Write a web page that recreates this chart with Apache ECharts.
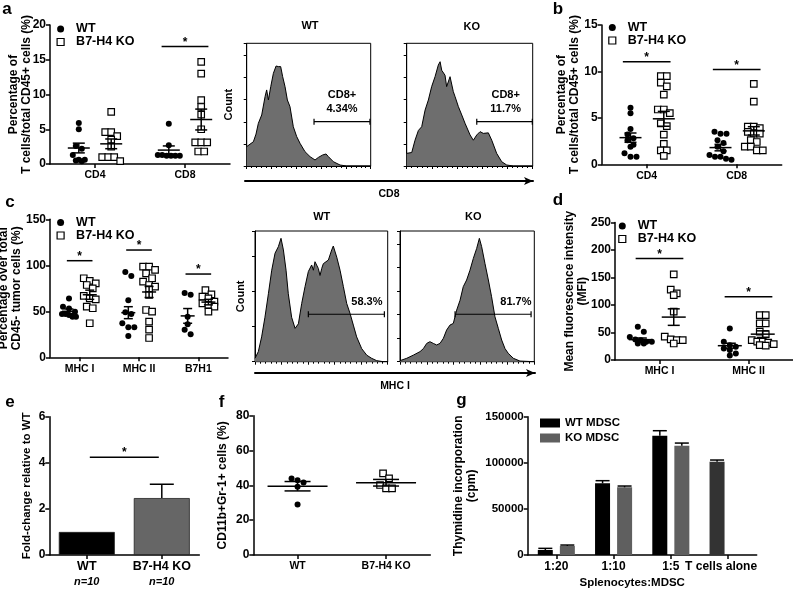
<!DOCTYPE html>
<html><head><meta charset="utf-8">
<script src="https://cdn.jsdelivr.net/npm/echarts@6/dist/echarts.min.js"></script>
<style>html,body{margin:0;padding:0;background:#fff}#c{width:793px;height:591px}</style>
</head><body><div id="c"></div>
<script>
// ================= DATA =================
// Panel a
const aCats = ['CD4', 'CD8'];
const aWT_CD4 = [5.9, 5.0, 2.6, 2.2, 1.3, 0.6, 0.5, 0.4, 0.6];
const aKO_CD4 = [7.5, 4.6, 4.6, 4.0, 3.5, 2.5, 1.0, 1.0, 1.0, 0.4];
const aWT_CD8 = [5.8, 2.7, 1.3, 1.2, 1.2, 1.2, 1.2, 1.3];
const aKO_CD8 = [14.7, 13.0, 9.2, 8.2, 7.1, 5.0, 3.1, 3.1, 3.1, 1.8, 1.8];
const aMeanWT = [2.3, 2.0], aSemWT = [0.7, 0.6];
const aMeanKO = [2.9, 6.4], aSemKO = [0.7, 1.5];
const aSigCat = [1], aSigY = [16.9];
// Panel b
const bCats = ['CD4', 'CD8'];
const bWT_CD4 = [6.1, 5.5, 3.8, 3.2, 2.8, 2.6, 2.1, 1.9, 1.2, 0.8, 0.8];
const bKO_CD4 = [9.5, 9.5, 8.8, 8.4, 7.5, 5.9, 5.9, 5.5, 4.4, 4.1, 3.2, 2.2, 1.5, 1.5, 0.9];
const bWT_CD8 = [3.5, 3.3, 3.3, 2.6, 2.3, 1.9, 1.4, 1.0, 0.8, 0.8, 0.6, 0.5];
const bKO_CD8 = [8.65, 6.75, 4.05, 4.05, 3.9, 3.5, 3.3, 3.3, 2.6, 2.4, 1.9, 1.9, 1.5, 1.5];
const bMeanWT = [2.87, 1.8], bSemWT = [0.5, 0.35];
const bMeanKO = [4.9, 3.6], bSemKO = [0.8, 0.45];
const bSigCat = [0, 1], bSigY = [11.05, 10.2];
// Panel c
const cCats = ['MHC I', 'MHC II', 'B7H1'];
const cWT_MHCI = [64, 55, 53, 49.6, 47, 46, 47, 44.2, 44.2];
const cKO_MHCI = [85.9, 83, 80.4, 78.6, 75, 66.7, 63, 64, 55, 53.3, 37];
const cWT_MHCII = [92.8, 88.4, 62, 49, 47, 37, 32.6, 32.6, 23.2];
const cKO_MHCII = [98.6, 98.6, 95, 91.3, 85.9, 82.2, 78.6, 76.8, 73.9, 67.8, 51.4, 49.6, 38.8, 30, 21];
const cWT_B7H1 = [70, 68, 44, 36, 30, 25];
const cKO_B7H1 = [73, 68.5, 66, 64, 60.5, 58.7, 57, 55, 49.6];
const cMeanWT = [50, 48.5, 45], cSemWT = [2.5, 6.5, 8];
const cMeanKO = [68, 71, 60], cSemKO = [5, 6, 3];
const cSigCat = [0, 1, 2], cSigY = [105, 116.6, 90.5];
// Panel d
const dCats = ['MHC I', 'MHC II'];
const dWT_MHCI = [60.5, 51.5, 42, 37.5, 36, 33, 33, 30, 30];
const dKO_MHCI = [155.6, 128, 121, 118, 88, 42.4, 37.5, 36, 36, 30];
const dWT_MHCII = [57.5, 33, 27, 24, 21, 18, 12, 8];
const dKO_MHCII = [81.7, 81.7, 66.6, 66.6, 51.5, 47, 36.3, 33.3, 33.3, 31.5, 29, 27, 26];
const dMeanWT = [37, 26], dSemWT = [3, 4.5];
const dMeanKO = [78, 47], dSemKO = [15, 6];
const dSigCat = [0, 1], dSigY = [184.7, 115];
// Panel e
const eCats = ['WT', 'B7-H4 KO'];
const eVal = [1.0, 2.47];
const eSem = [0, 0.6];
const eN = ['n=10', 'n=10'];
const eSigY = 4.24;
// Panel f
const fCats = ['WT', 'B7-H4 KO'];
const fWT = [44, 43, 41.7, 39.2, 29];
const fKO = [46.9, 44, 40.2, 38.3, 38.3];
const fMean = [39.5, 41.5], fSem = [2.7, 1.9];
// Panel g
const gCats = ['1:20', '1:10', '1:5', 'T cells alone'];
const gWT = [5400, 77700, 129400, null];
const gKO = [9750, 73400, 118500, null];
const gAlone = [null, null, null, 101200];
const gWTsem = [1800, 2900, 5400, null];
const gKOsem = [1050, 1400, 2900, null];
const gAloneSem = [null, null, null, 1800];
// Flow histograms [channel, count]
const histAWT = [[0,15.8],[5.4,19.8],[7.5,26],[9.4,34.8],[12.1,41.6],[14.8,56.5],[16.1,62],[17.5,53.8],[19.4,64.7],[21.5,75.5],[23.7,81.5],[24.7,82.3],[25.5,81],[27.4,81],[29.0,72.8],[30.9,64.7],[32.8,53.8],[34.9,48.4],[37.6,32],[40.3,24],[43.0,18.5],[47.0,11.7],[51.1,7.6],[55.1,4.9],[57.8,7],[61.3,9],[64.0,9.8],[65.9,7.6],[69.9,3.5],[75.3,0.8],[80.6,0],[100,0]];
const histAKO = [[0,10.3],[4.0,11],[6.6,21],[9.3,29],[11.9,32],[14.6,45.6],[17.2,53.8],[19.8,64.7],[22.5,72.8],[25.1,82.3],[26.5,85],[27.8,78],[30.4,74],[31.7,64.7],[34.4,72.8],[37.0,60.6],[38.4,56.5],[41.0,48.4],[43.7,41.6],[46.3,34.8],[50.3,25.3],[52.9,21],[55.6,25.3],[58.2,28],[60.8,26.6],[64.8,27],[67.5,21],[71.4,10.3],[75.4,3.5],[79.4,0.8],[84.7,0],[100,0]];
const histCWT = [[0,2.6],[2.5,7.7],[5.0,19],[7.5,34],[10.1,52],[12.6,70],[15.1,83],[17.6,88],[19.6,94.4],[21.4,85.5],[23.4,70],[25.1,52],[27.6,34],[30.2,25.5],[32.7,29],[35.2,44.6],[37.7,57.4],[40.2,69],[42.7,74],[44,70],[45.2,76.5],[46.5,78],[47.7,71.4],[49,66],[50.3,71.4],[51.5,75],[52.8,74],[55.3,77.8],[57.8,85.5],[59.0,88.5],[61.6,80],[64.1,70],[66.6,57.4],[69.1,44.6],[71.6,37],[74.1,28],[76.6,19],[80.4,10],[84.2,5],[87.9,2.6],[91.7,0.8],[96.7,0],[100,0]];
const histCKO = [[0,0.8],[5.0,2.6],[9.9,5],[14.9,7.7],[17.4,10],[19.9,14],[22.3,15.3],[24.8,14],[27.3,12.8],[29.8,14],[32.3,17.9],[34.7,24.2],[37.2,28],[39.7,29.3],[42.2,39.5],[44.7,47],[47.1,57.4],[49.6,62.5],[52.1,70],[54.6,79],[57.1,86.7],[59.1,94.4],[60.8,88],[63.3,75],[65.8,62.5],[68.2,49.7],[70.7,34.4],[73.2,25.5],[75.7,16.6],[78.2,10],[80.6,6.4],[84.4,2.6],[89.3,0.5],[100,0]];
// Gates [start channel, end channel, height]
const gateAWT = [54.3, 99.4, 36.1], gateAWTText = 'CD8+\n4.34%';
const gateAKO = [55.6, 99.7, 36.1], gateAKOText = 'CD8+\n11.7%';
const gateCWT = [40.2, 97.5, 36.3], gateCWTText = '58.3%';
const gateCKO = [41.0, 97.6, 36.3], gateCKOText = '81.7%';

// ================= LAYOUT / STYLE =================
const FONT = "'Liberation Sans', Arial, sans-serif";
const AX = {color: '#000', width: 1.5};
function txt(size, extra) { return Object.assign({fontFamily: FONT, fontSize: size, fontWeight: 'bold', color: '#000'}, extra || {}); }

const grids = [
  {left: 50, top: 25, width: 180, height: 139},          // 0 a
  {left: 601.7, top: 25, width: 180, height: 139.3},     // 1 b
  {left: 50, top: 219.3, width: 178, height: 138},       // 2 c
  {left: 615, top: 222.5, width: 178, height: 137.5},    // 3 d
  {left: 49.3, top: 416.7, width: 150, height: 138.3},   // 4 e
  {left: 253.3, top: 415.7, width: 177, height: 139.3},  // 5 f
  {left: 527.7, top: 416.7, width: 229, height: 138.3},  // 6 g
  {left: 246.7, top: 43.3, width: 124, height: 122.7},   // 7 flow a WT
  {left: 406.7, top: 43.3, width: 126, height: 122.7},   // 8 flow a KO
  {left: 255, top: 231, width: 132.7, height: 130.7},    // 9 flow c WT
  {left: 400, top: 231, width: 134.3, height: 130.7},    // 10 flow c KO
  {left: 245, top: 180, width: 288, height: 1},          // 11 arrow a
  {left: 255, top: 372, width: 280, height: 1}           // 12 arrow c
];
grids.forEach((g, i) => { g.outerBoundsMode = 'none'; g.containLabel = false;
  if (i >= 7 && i <= 10) { g.show = true; g.borderColor = '#000'; g.borderWidth = 1; g.backgroundColor = 'transparent'; } });

const xAxes = [], yAxes = [], series = [], legends = [];

function addCatAxis(grid, cats, label) {
  xAxes.push({type: 'category', gridIndex: grid, data: cats, boundaryGap: true,
    axisLine: {show: true, lineStyle: AX},
    axisTick: {show: true, alignWithLabel: true, length: 4, lineStyle: AX},
    axisLabel: Object.assign(txt(10.5, {margin: 6, interval: 0}), label || {}),
    splitLine: {show: false}});
  return xAxes.length - 1;
}
function addYAxis(grid, max, interval, name, nameGap, nameSize, labelSize) {
  yAxes.push({type: 'value', gridIndex: grid, min: 0, max: max, interval: interval,
    name: name, nameLocation: 'middle', nameGap: nameGap, nameMoveOverlap: false,
    nameTextStyle: txt(nameSize || 12, {lineHeight: 13}),
    axisLine: {show: true, lineStyle: AX}, axisTick: {show: true, length: 4, lineStyle: AX},
    axisLabel: txt(labelSize || 12, {margin: 4, formatter: v => String(v)}), splitLine: {show: false}});
  return yAxes.length - 1;
}
function swarm(vals, cx, pxU, catPx, d, maxRow) {
  const s = vals.slice().sort((a, b) => b - a);
  const rows = []; let cur = [];
  s.forEach(v => { if (cur.length && (cur[0] - v) * pxU > d * 0.85) { rows.push(cur); cur = []; } cur.push(v); });
  if (cur.length) rows.push(cur);
  const out = [];
  rows.forEach(r => {
    const m = r.length;
    const step = m > 1 ? Math.min(d, maxRow / (m - 1)) : 0;
    r.forEach((v, k) => out.push([cx + (k - (m - 1) / 2) * step / catPx, v]));
  });
  return out;
}
const ST = {stroke: '#000', lineWidth: 1.5};
function ln(x1, y1, x2, y2, st) { return {type: 'line', shape: {x1, y1, x2, y2}, style: st || ST}; }

function dotPanel(p) {
  addCatAxis(p.grid, p.cats);
  const xv = xAxes.push({type: 'value', gridIndex: p.grid, min: 0, max: p.cats.length, show: false}) - 1;
  const yi = addYAxis(p.grid, p.ymax, p.interval, p.yname, p.nameGap);
  const g = grids[p.grid];
  const pxU = g.height / p.ymax, catPx = g.width / p.cats.length;
  p.groups.forEach(gr => {
    const pts = [];
    gr.values.forEach((vals, i) => { if (vals) pts.push(...swarm(vals, i + 0.5 + gr.off, pxU, catPx, 6, p.maxRow || 22)); });
    const isWT = gr.name === 'WT';
    series.push({type: 'scatter', name: gr.name, xAxisIndex: xv, yAxisIndex: yi, data: pts, silent: true, z: 3,
      symbol: isWT ? 'circle' : 'rect', symbolSize: isWT ? 6 : 6.5,
      itemStyle: isWT ? {color: '#000', opacity: 1} : {color: '#fff', borderColor: '#000', borderWidth: 1.2, opacity: 1}});
    const md = [];
    gr.mean.forEach((m, i) => { if (m != null) md.push([i + 0.5 + gr.off, m, gr.sem[i]]); });
    series.push({type: 'custom', xAxisIndex: xv, yAxisIndex: yi, silent: true, z: 5, data: md,
      renderItem: (params, api) => {
        const x = api.value(0), m = api.value(1), s = api.value(2);
        const c = api.coord([x, m]), t = api.coord([x, m + s]), b = api.coord([x, m - s]);
        const mh = p.meanHalf, ch = p.capHalf;
        return {type: 'group', children: [
          ln(c[0] - mh, c[1], c[0] + mh, c[1]), ln(c[0], t[1], c[0], b[1]),
          ln(c[0] - ch, t[1], c[0] + ch, t[1]), ln(c[0] - ch, b[1], c[0] + ch, b[1])]};
      }});
  });
  if (p.sigCat) {
    series.push({type: 'custom', xAxisIndex: xv, yAxisIndex: yi, silent: true, z: 5,
      data: p.sigCat.map((c, i) => [c + 0.5, p.sigY[i]]),
      renderItem: (params, api) => {
        const x = api.value(0), y = api.value(1);
        const l = api.coord([x - p.sigHalf, y]), r = api.coord([x + p.sigHalf, y]);
        return {type: 'group', children: [ln(l[0], l[1], r[0], r[1]),
          {type: 'text', style: {text: '*', x: (l[0] + r[0]) / 2, y: l[1] - 4.2, align: 'center', verticalAlign: 'middle', font: 'bold 12px ' + FONT, fill: '#000'}}]};
      }});
  }
  if (p.legend) {
    legends.push({left: p.legend[0], top: p.legend[1], padding: 0, orient: 'vertical', itemWidth: 7, itemHeight: 7, itemGap: 0,
      selectedMode: false, textStyle: txt(12.5, {lineHeight: 11, padding: [0, 0, 0, 7]}),
      data: [{name: 'WT', icon: 'circle', itemStyle: {color: '#000', opacity: 1}},
             {name: 'B7-H4 KO', icon: 'rect', itemStyle: {color: '#fff', borderColor: '#000', borderWidth: 1.2, opacity: 1}}]});
  }
}

const yNameAB = 'Percentage of\nT cells/total CD45+ cells (%)';
dotPanel({grid: 0, cats: aCats, ymax: 20, interval: 5, yname: yNameAB, nameGap: 17,
  groups: [{name: 'WT', values: [aWT_CD4, aWT_CD8], mean: aMeanWT, sem: aSemWT, off: -0.18},
           {name: 'B7-H4 KO', values: [aKO_CD4, aKO_CD8], mean: aMeanKO, sem: aSemKO, off: 0.18}],
  sigCat: aSigCat, sigY: aSigY, sigHalf: 0.26, meanHalf: 11, capHalf: 6, legend: [56.5, 22.5]});
dotPanel({grid: 1, cats: bCats, ymax: 15, interval: 5, yname: yNameAB, nameGap: 21,
  groups: [{name: 'WT', values: [bWT_CD4, bWT_CD8], mean: bMeanWT, sem: bSemWT, off: -0.18},
           {name: 'B7-H4 KO', values: [bKO_CD4, bKO_CD8], mean: bMeanKO, sem: bSemKO, off: 0.19}],
  sigCat: bSigCat, sigY: bSigY, sigHalf: 0.265, meanHalf: 11, capHalf: 6, legend: [608.2, 21]});
dotPanel({grid: 2, cats: cCats, ymax: 150, interval: 50, yname: 'Percentage over total\nCD45- tumor cells (%)', nameGap: 27,
  groups: [{name: 'WT', values: [cWT_MHCI, cWT_MHCII, cWT_B7H1], mean: cMeanWT, sem: cSemWT, off: -0.18},
           {name: 'B7-H4 KO', values: [cKO_MHCI, cKO_MHCII, cKO_B7H1], mean: cMeanKO, sem: cSemKO, off: 0.17}],
  sigCat: cSigCat, sigY: cSigY, sigHalf: 0.216, meanHalf: 7, capHalf: 4.5, maxRow: 14, legend: [56.5, 216]});
dotPanel({grid: 3, cats: dCats, ymax: 250, interval: 50, yname: 'Mean fluorescence intensity\n(MFI)', nameGap: 26,
  groups: [{name: 'WT', values: [dWT_MHCI, dWT_MHCII], mean: dMeanWT, sem: dSemWT, off: -0.21},
           {name: 'B7-H4 KO', values: [dKO_MHCI, dKO_MHCII], mean: dMeanKO, sem: dSemKO, off: 0.16}],
  sigCat: dSigCat, sigY: dSigY, sigHalf: 0.268, meanHalf: 12, capHalf: 6, legend: [618.2, 219.5]});
dotPanel({grid: 5, cats: fCats, ymax: 80, interval: 20, yname: 'CD11b+Gr-1+ cells (%)', nameGap: 24,
  groups: [{name: 'WT', values: [fWT, null], mean: [fMean[0], null], sem: [fSem[0], null], off: 0},
           {name: 'B7-H4 KO', values: [null, fKO], mean: [null, fMean[1]], sem: [null, fSem[1]], off: 0}],
  meanHalf: 30, capHalf: 13, maxRow: 30});

// ---- panel e (bars)
const eColors = ['#000', '#666'];
const exi = addCatAxis(4, eCats, {formatter: (v, i) => '{c|' + v + '}\n{n|' + eN[i] + '}', margin: 4,
  rich: {c: txt(12.5, {lineHeight: 15}), n: txt(11, {fontStyle: 'italic', lineHeight: 15})}});
const eyi = addYAxis(4, 6, 2, 'Fold-change relative to WT', 16, 11.5);
series.push({type: 'bar', xAxisIndex: exi, yAxisIndex: eyi, barWidth: 56, silent: true,
  data: eVal.map((v, i) => ({value: v, itemStyle: {color: eColors[i], borderColor: '#222', borderWidth: 0.8}}))});
series.push({type: 'custom', xAxisIndex: exi, yAxisIndex: eyi, silent: true, z: 5,
  data: eVal.map((v, i) => [i, v, eSem[i]]),
  renderItem: (params, api) => {
    const i = api.value(0), v = api.value(1), s = api.value(2);
    if (!s) return null;
    const b = api.coord([i, v]), t = api.coord([i, v + s]);
    return {type: 'group', children: [ln(b[0], b[1], b[0], t[1]), ln(b[0] - 12, t[1], b[0] + 12, t[1])]};
  }});
series.push({type: 'custom', xAxisIndex: exi, yAxisIndex: eyi, silent: true, z: 5, data: [[0, eSigY]],
  renderItem: (params, api) => {
    const y = api.value(1);
    const l = api.coord([0, y]), r = api.coord([1, y]);
    return {type: 'group', children: [ln(l[0] + 3, l[1], r[0] - 3, r[1]),
      {type: 'text', style: {text: '*', x: (l[0] + r[0]) / 2, y: l[1] - 4.2, align: 'center', verticalAlign: 'middle', font: 'bold 12px ' + FONT, fill: '#000'}}]};
  }});

// ---- panel g (grouped bars)
const gxi = addCatAxis(6, gCats, {fontSize: 12, formatter: (v, i) => i === gCats.length - 1 ? '{s|' + v + '}' : v,
  rich: {s: txt(12, {padding: [0, 14, 0, 0]})}});
xAxes[gxi].name = 'Splenocytes:MDSC';
xAxes[gxi].nameLocation = 'middle';
xAxes[gxi].nameGap = 22;
xAxes[gxi].nameMoveOverlap = false;
xAxes[gxi].nameTextStyle = txt(11.5, {padding: [0, 20, 0, 0]});
const gyi = addYAxis(6, 150000, 50000, 'Thymidine incorporation\n(cpm)', 50, 12, 11.5);
const gColWT = '#000', gColKO = '#5f5f5f', gColAlone = '#333';
series.push({type: 'bar', name: 'WT MDSC', xAxisIndex: gxi, yAxisIndex: gyi, barWidth: 15, barGap: '47%', silent: true,
  itemStyle: {color: gColWT},
  data: gWT.map((v, i) => v != null ? v : (gAlone[i] != null ? {value: gAlone[i], itemStyle: {color: gColAlone}} : null))});
series.push({type: 'bar', name: 'KO MDSC', xAxisIndex: gxi, yAxisIndex: gyi, barWidth: 15, barGap: '47%', silent: true,
  itemStyle: {color: gColKO}, data: gKO});
const gErr = [];
gWT.forEach((v, i) => { if (v != null) gErr.push([i, v, gWTsem[i], -1]); });
gKO.forEach((v, i) => { if (v != null) gErr.push([i, v, gKOsem[i], 1]); });
gAlone.forEach((v, i) => { if (v != null) gErr.push([i, v, gAloneSem[i], -1]); });
series.push({type: 'custom', xAxisIndex: gxi, yAxisIndex: gyi, silent: true, z: 5, data: gErr,
  renderItem: (params, api) => {
    const i = api.value(0), v = api.value(1), s = api.value(2), slot = api.value(3);
    const b = api.coord([i, v]), t = api.coord([i, v + s]);
    const x = b[0] + slot * 11;
    return {type: 'group', children: [ln(x, b[1], x, t[1]), ln(x - 7, t[1], x + 7, t[1])]};
  }});
legends.push({left: 540, top: 417, padding: 0, orient: 'vertical', itemWidth: 20, itemHeight: 9, itemGap: 3, selectedMode: false,
  textStyle: txt(11.5, {lineHeight: 10}), data: [{name: 'WT MDSC', icon: 'rect'}, {name: 'KO MDSC', icon: 'rect'}]});

// ---- flow histograms
function flowPanel(grid, hist, gate, gateText, labelFrac, yInt, countGap) {
  const thin = {color: '#000', width: 1};
  const xi = xAxes.push({type: 'value', gridIndex: grid, min: 0, max: 100, interval: 20,
    axisLine: {show: true, lineStyle: thin}, axisTick: {show: true, length: 3, lineStyle: thin},
    minorTick: {show: true, splitNumber: 5, length: 2, lineStyle: thin},
    axisLabel: {show: false}, splitLine: {show: false}}) - 1;
  const yi = yAxes.push({type: 'value', gridIndex: grid, min: 0, max: 100, interval: yInt,
    axisLine: {show: true, lineStyle: thin}, axisTick: {show: true, length: 3, lineStyle: thin},
    axisLabel: {show: false}, splitLine: {show: false},
    name: countGap ? 'Count' : '', nameLocation: 'middle', nameGap: countGap || 0, nameMoveOverlap: false,
    nameTextStyle: txt(11)}) - 1;
  series.push({type: 'line', xAxisIndex: xi, yAxisIndex: yi, data: hist, showSymbol: false, silent: true, z: 2,
    lineStyle: {color: '#000', width: 1}, areaStyle: {color: '#6e6e6e', opacity: 1}});
  series.push({type: 'custom', xAxisIndex: xi, yAxisIndex: yi, silent: true, z: 5, data: [gate],
    renderItem: (params, api) => {
      const p1 = api.coord([api.value(0), api.value(2)]), p2 = api.coord([api.value(1), api.value(2)]);
      const st = {stroke: '#000', lineWidth: 1.2};
      const lx = p1[0] + (p2[0] - p1[0]) * labelFrac;
      return {type: 'group', children: [ln(p1[0], p1[1], p2[0], p2[1], st),
        ln(p1[0], p1[1] - 3, p1[0], p1[1] + 3, st), ln(p2[0], p2[1] - 3, p2[0], p2[1] + 3, st),
        {type: 'text', style: {text: gateText, x: lx, y: p1[1] - 5.5, align: 'center', verticalAlign: 'bottom',
          font: 'bold 11px ' + FONT, lineHeight: 14, fill: '#000'}}]};
    }});
}
flowPanel(7, histAWT, gateAWT, gateAWTText, 0.5, 18, 12);
flowPanel(8, histAKO, gateAKO, gateAKOText, 0.52, 18, 0);
flowPanel(9, histCWT, gateCWT, gateCWTText, 0.77, 27, 9);
flowPanel(10, histCKO, gateCKO, gateCKOText, 0.8, 18, 0);

function arrowAxis(grid, name) {
  xAxes.push({type: 'value', gridIndex: grid, min: 0, max: 1, position: 'bottom',
    axisLine: {show: true, onZero: false, symbol: ['none', 'arrow'], symbolSize: [6, 9], lineStyle: {color: '#000', width: 2}},
    axisTick: {show: false}, axisLabel: {show: false}, splitLine: {show: false},
    name: name, nameLocation: 'middle', nameGap: 8, nameMoveOverlap: false, nameTextStyle: txt(10.5)});
  yAxes.push({type: 'value', gridIndex: grid, min: 0, max: 1, show: false});
}
arrowAxis(11, 'CD8');
arrowAxis(12, 'MHC I');

// ---- panel letters and flow titles
function label(text, x, y, font) {
  return {type: 'text', x: x, y: y, silent: true, style: {text: text, font: font, fill: '#000', align: 'center', verticalAlign: 'middle'}};
}
const LF = 'bold 17px ' + FONT, TF = 'bold 11px ' + FONT;
const graphics = [
  label('a', 7, 9.5, LF), label('b', 558, 9, LF), label('c', 10, 202, LF), label('d', 558, 200, LF),
  label('e', 10, 402, LF), label('f', 221.5, 402, LF), label('g', 461.5, 400, LF),
  label('WT', 310, 26, TF), label('KO', 471.7, 26.5, TF), label('WT', 321.7, 216.7, TF), label('KO', 473.3, 216.7, TF)
];

const chart = echarts.init(document.getElementById('c'), null, {renderer: 'canvas'});
chart.setOption({
  animation: false, backgroundColor: '#fff', textStyle: {fontFamily: FONT},
  grid: grids, xAxis: xAxes, yAxis: yAxes, series: series, legend: legends, graphic: graphics, tooltip: {show: false}
});
</script></body></html>
